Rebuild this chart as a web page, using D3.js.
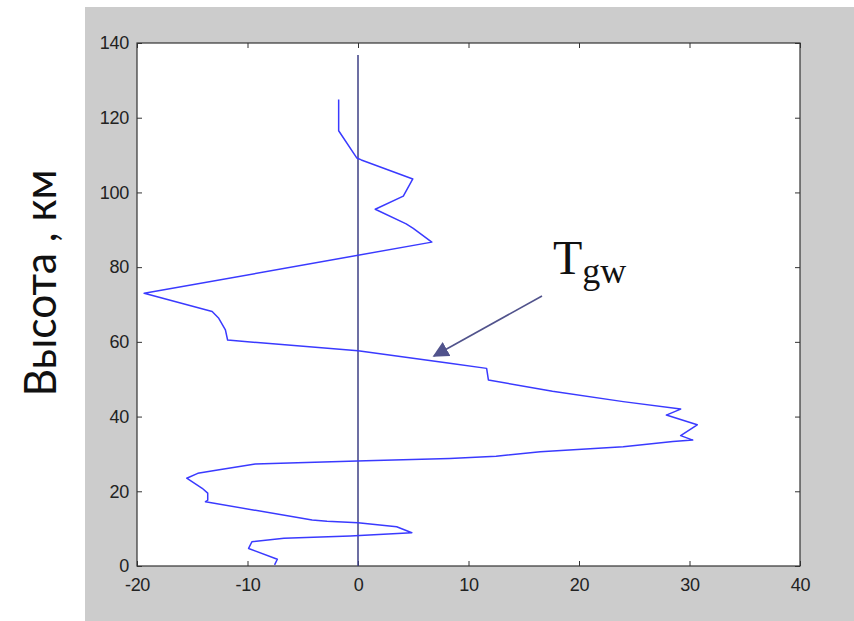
<!DOCTYPE html>
<html>
<head>
<meta charset="utf-8">
<script src="https://cdn.jsdelivr.net/npm/d3@7"></script>
<style>
  html, body { margin: 0; padding: 0; background: #ffffff; }
  svg { display: block; }
</style>
</head>
<body>
<svg id="chart" width="854" height="621"></svg>
<script>
// ---- data ----
const tgwValues = [-1.75, -1.75, -0.1, 0.3, 4.96, 4.1, 1.56, 4.36, 5.0, 6.68,
  -19.35, -13.2, -12.6, -12.0, -11.8, -9.1, 0, 8.3, 11.64, 11.8,
  17.6, 24.0, 29.2, 27.9, 30.7, 29.2, 30.3, 28.5, 24.0, 16.5,
  12.5, 8.3, 0.7, -7.0, -9.3, -12.7, -14.5, -15.5, -14.1, -13.6,
  -13.6, -13.8, -4.15, -2.8, 0, 3.5, 4.87, -0.7, -6.7, -9.6,
  -9.9, -7.3, -7.55];
const altitudeKm = [124.9, 116.5, 109.2, 108.7, 103.6, 99.0, 95.5, 91.6, 90.4, 86.7,
  73.0, 68.1, 66.3, 63.2, 60.5, 59.8, 57.6, 54.3, 52.9, 49.8,
  46.8, 44.0, 42.0, 40.4, 37.8, 34.9, 33.7, 33.3, 31.9, 30.6,
  29.4, 28.8, 28.2, 27.5, 27.3, 25.7, 24.8, 23.5, 20.8, 19.5,
  17.6, 17.2, 12.3, 12.0, 11.6, 10.5, 8.9, 8.0, 7.4, 6.5,
  4.7, 1.8, 0.3];
const zeroLine = [[0, 0], [0, 136.8]];
const xTicks = [-20, -10, 0, 10, 20, 30, 40];
const yTicks = [0, 20, 40, 60, 80, 100, 120, 140];
const yLabel = "Высота , км";
const seriesMain = "T";
const seriesSub = "gw";

// ---- layout ----
const svg = d3.select("#chart");
const L = 137, R = 800, T = 43, B = 566;

svg.append("rect").attr("x", 85).attr("y", 7).attr("width", 854 - 85).attr("height", 621 - 7)
  .attr("fill", "#cccccc");
svg.append("rect").attr("x", L).attr("y", T).attr("width", R - L).attr("height", B - T)
  .attr("fill", "#ffffff");

const x = d3.scaleLinear().domain([-20, 40]).range([L, R]);
const y = d3.scaleLinear().domain([0, 140]).range([B, T]);

const fmt = d => String(d);
const tickFont = "'Liberation Sans', Arial, sans-serif";

function styleAxis(g) {
  g.select(".domain").remove();
  g.selectAll(".tick line").attr("stroke", "#333333").attr("stroke-width", 1);
  g.selectAll(".tick text").attr("fill", "#222222")
    .style("font-family", tickFont).style("font-size", "18px").style("letter-spacing", "-0.3px");
}

svg.append("g").attr("transform", `translate(0,${B})`)
  .call(d3.axisBottom(x).tickValues(xTicks).tickSize(-5).tickPadding(12).tickFormat(fmt))
  .call(styleAxis);
svg.append("g").attr("transform", `translate(0,${T})`)
  .call(d3.axisTop(x).tickValues(xTicks).tickSize(-5).tickFormat(""))
  .call(styleAxis);
svg.append("g").attr("transform", `translate(${L},0)`)
  .call(d3.axisLeft(y).tickValues(yTicks).tickSize(-5).tickPadding(8).tickFormat(fmt))
  .call(styleAxis);
svg.append("g").attr("transform", `translate(${R},0)`)
  .call(d3.axisRight(y).tickValues(yTicks).tickSize(-5).tickFormat(""))
  .call(styleAxis);

// border
svg.append("rect").attr("x", L).attr("y", T).attr("width", R - L).attr("height", B - T)
  .attr("fill", "none").attr("stroke", "#333333").attr("stroke-width", 1.2);

// zero line
svg.append("path")
  .attr("d", d3.line().x(d => x(d[0])).y(d => y(d[1]))(zeroLine))
  .attr("fill", "none").attr("stroke", "#3d3f85").attr("stroke-width", 1.5);

// profile line
const pts = tgwValues.map((v, i) => [v, altitudeKm[i]]);
svg.append("path")
  .attr("d", d3.line().x(d => x(d[0])).y(d => y(d[1]))(pts))
  .attr("fill", "none").attr("stroke", "#3a3aff").attr("stroke-width", 1.5)
  .attr("stroke-linejoin", "round");

// annotation arrow
const defs = svg.append("defs");
defs.append("marker").attr("id", "arrowhead")
  .attr("viewBox", "0 0 10 10").attr("refX", 9).attr("refY", 5)
  .attr("markerWidth", 16).attr("markerHeight", 16).attr("markerUnits", "userSpaceOnUse")
  .attr("orient", "auto")
  .append("path").attr("d", "M0,0 L10,5 L0,10 Z").attr("fill", "#51538c");
svg.append("line")
  .attr("x1", 542).attr("y1", 296).attr("x2", 434).attr("y2", 356)
  .attr("stroke", "#51538c").attr("stroke-width", 1.6)
  .attr("marker-end", "url(#arrowhead)");

const lab = svg.append("text").attr("x", 553).attr("y", 274)
  .style("font-family", "'Liberation Serif', 'DejaVu Serif', serif").attr("fill", "#111111");
lab.append("tspan").style("font-size", "48px").text(seriesMain);
lab.append("tspan").attr("dy", 9).style("font-size", "36px").text(seriesSub);

// y-axis label
svg.append("text")
  .attr("transform", "translate(56,283) rotate(-90)")
  .attr("text-anchor", "middle")
  .attr("textLength", 227).attr("lengthAdjust", "spacingAndGlyphs")
  .style("font-family", "Lato, 'Open Sans', sans-serif").style("font-size", "45px")
  .attr("fill", "#111111")
  .text(yLabel);
</script>
</body>
</html>
